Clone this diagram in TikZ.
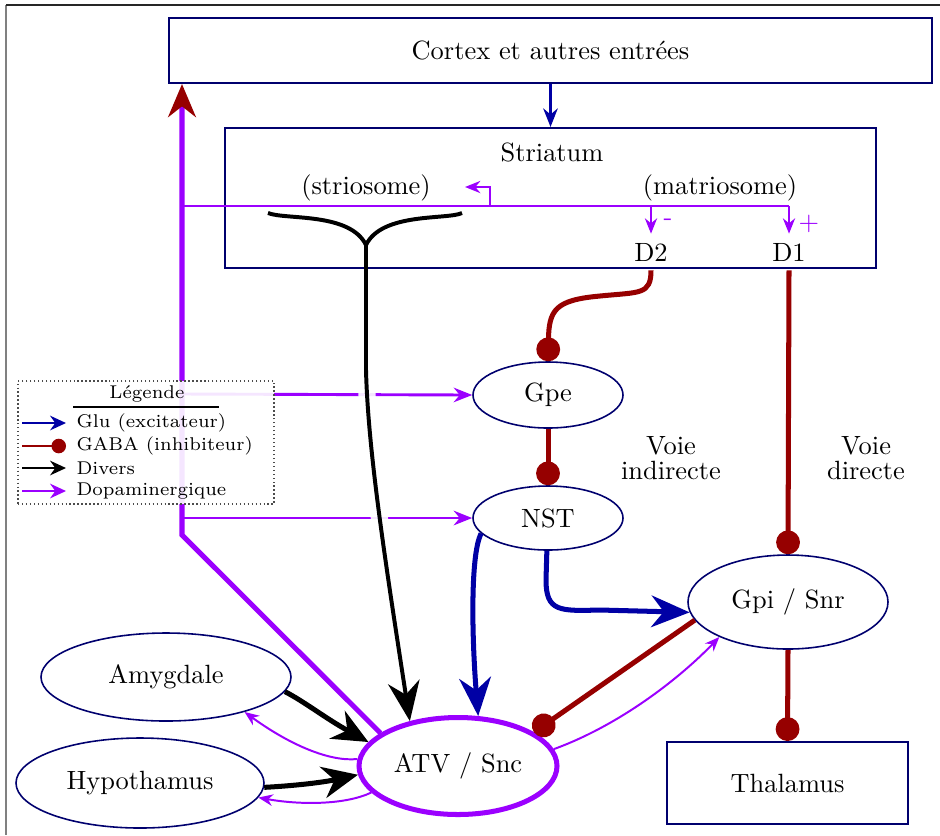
\documentclass[tikz,border=0pt]{standalone}
\usetikzlibrary{arrows.meta,shapes.geometric}
\definecolor{navyb}{RGB}{0,0,110}
\definecolor{glu}{RGB}{0,0,165}
\definecolor{gaba}{RGB}{150,0,0}
\definecolor{dopa}{RGB}{155,0,255}
\newcommand\pxu{0.3788pt}
\begin{document}
\begin{tikzpicture}[x=0.3788pt,y=-0.3788pt,
  box/.style={draw=navyb, line width=0.8pt, inner sep=0pt},
  ell/.style={ellipse, draw=navyb, line width=0.6pt, inner sep=0pt, fill=white},
  lbl/.style={inner sep=0pt},
  gluthick/.style={draw=glu, line width=1.9pt, -{Stealth[length=14.5pt,width=12pt]}},
  gabal/.style={draw=gaba, line width=1.9pt, -{Circle[length=9pt]}},
  dopathick/.style={draw=dopa, line width=1.9pt},
  dopamed/.style={draw=dopa, line width=1.1pt, -{Stealth[length=7pt,width=5.5pt]}},
  dopastr/.style={draw=dopa, line width=1pt, -{Stealth[length=5.8pt,width=4.6pt]}},
  dopathin/.style={draw=dopa, line width=0.75pt, -{Stealth[length=5.5pt,width=4.4pt]}},
  diverse/.style={draw=black, line width=1.9pt, -{Stealth[length=13.5pt,width=12pt]}},
  bigblack/.style={draw=black, line width=1.5pt, -{Stealth[length=15pt,width=12pt]}},
  bracest/.style={draw=black, line width=1.5pt},
  legtxt/.style={font=\scriptsize, anchor=west, inner sep=0pt},
  legarrow/.style={line width=1.1pt, -{Stealth[length=6pt,width=5.5pt]}},
]
\useasboundingbox (0,0) rectangle (940,835);
% frame
\draw[gray, line width=0.8pt] (6,5) -- (6,835);
\draw[black!85, line width=0.7pt] (6,5) -- (940,5);

% nodes
\node[box, minimum width=763*\pxu, minimum height=65*\pxu] (cortex) at (550.5,50.5) {Cortex et autres entrées};
\node[box, minimum width=651*\pxu, minimum height=140*\pxu] (striatum) at (550.5,198) {};
\node[lbl] (strlbl) at (552,152) {Striatum};
\node[lbl] (strio) at (366,188) {(striosome)};
\node[lbl] (matrio) at (720,188) {(matriosome)};
\node (D2) at (651,252) {D2};
\node (D1) at (789,252) {D1};
\node[text=dopa] (minus) at (668,222) {-};
\node[text=dopa] (plus) at (809,224) {+};
\node[ell, minimum width=150*\pxu, minimum height=66*\pxu] (gpe) at (548,395) {Gpe};
\node[ell, minimum width=150*\pxu, minimum height=64*\pxu] (nst) at (548,518) {NST};
\node[ell, minimum width=200*\pxu, minimum height=94*\pxu] (gpi) at (788,602) {Gpi / Snr};
\node[ell, draw=dopa, line width=1.9pt, minimum width=198*\pxu, minimum height=97*\pxu] (atv) at (458,766) {ATV / Snc};
\node[ell, minimum width=250*\pxu, minimum height=88*\pxu] (amyg) at (166,677) {Amygdale};
\node[ell, minimum width=248*\pxu, minimum height=90*\pxu] (hypo) at (140,783) {Hypothamus};
\node[box, minimum width=241*\pxu, minimum height=82*\pxu] (thal) at (787.5,783) {Thalamus};
\node[align=center] (vind) at (671,458) {Voie\\[-2.7pt]indirecte};
\node[align=center] (vdir) at (866,458) {Voie\\[-2.7pt]directe};

% cortex -> striatum
\draw[glu, line width=1.1pt, -{Stealth[length=7pt,width=5.5pt]}] (cortex.south) -- (striatum.north);

% dopaminergic main line
\coordinate (pbot) at (182,535);
\coordinate (pstr) at (182,206);
\coordinate (pgpe) at (182,394);
\coordinate (pnst) at (182,518);
\draw[dopathick, -{Stealth[length=12.5pt,width=10.5pt,color=gaba]}] (atv.157) -- (pbot) -- (pbot |- cortex.south);
\draw[dopamed] (pgpe) -- (gpe.west);
\draw[dopamed] (pnst) -- (nst.west);

% striatum dopaminergic
\coordinate (pd2) at (D2 |- pstr);
\coordinate (pd1) at (D1 |- pstr);
\coordinate (pss) at (490,206);
\coordinate (pstip) at (465,187);
\draw[dopa, line width=1pt] (pstr) -- (pd1);
\draw[dopastr] (pd2) -- (D2.north);
\draw[dopastr] (pd1) -- (D1.north);
\draw[dopastr] (pss) |- (pstip);

% GABA
\draw[gabal] (D2.south) .. controls (651,295) and (640,292) .. (600,296) .. controls (555,300) and (549,310) .. (gpe.north);
\draw[gabal] (gpe.south) -- (nst.north);
\draw[gabal] (D1.south) -- (gpi.north);
\draw[gabal] (gpi.south) -- (thal.north);
\draw[gabal] (gpi.191) -- (atv.24);

% Glu
\draw[gluthick] (nst.193) .. controls (470,555) and (472,640) .. (atv.68);
\draw[gluthick] (nst.-92) -- (546,580) .. controls (546,612) and (560,611) .. (600,610) -- (gpi.186);

% divers
\draw[diverse] (amyg.-7) .. controls (305,702) and (325,718) .. (atv.165);
\draw[diverse] (hypo.-2) .. controls (290,786) and (320,783) .. (atv.185);

% striosome output
\coordinate (brl) at (268,213);
\coordinate (brr) at (462,213);
\coordinate (brj) at (366,245);
\draw[bracest] (brl) .. controls (285,220) and (350,212) .. (brj);
\draw[bracest] (brr) .. controls (447,220) and (382,212) .. (brj);
\draw[bigblack, preaction={draw=white, opacity=.9, line width=6.5pt, -, shorten <=45pt, shorten >=40pt}] (brj) -- (366,370) .. controls (368,450) and (385,560) .. (atv.137);

% dopaminergic thin
\draw[dopathin] (atv.10) .. controls (620,725) and (680,678) .. (gpi.207);
\draw[dopathin] (atv.176) .. controls (330,762) and (290,745) .. (amyg.-24);
\draw[dopathin] (atv.197) .. controls (345,805) and (300,805) .. (hypo.-7);

% legend
\node[draw=black!70, densely dotted, line width=0.5pt, fill=white, fill opacity=0.9, text opacity=1, minimum width=256*\pxu, minimum height=123*\pxu, inner sep=0pt] (leg) at (146,442.5) {};
\node[font=\scriptsize, inner sep=0pt] (legt) at (147,394) {Légende};
\draw[line width=0.5pt] (73,407) -- (219,407);
\draw[glu, legarrow] (22,423) -- (66,423);
\node[legtxt] (lg1) at (76,423) {Glu (excitateur)};
\draw[gaba, line width=1.1pt, -{Circle[length=5.5pt]}] (22,446) -- (66,446);
\node[legtxt] (lg2) at (76,446) {GABA (inhibiteur)};
\draw[black, legarrow] (22,468) -- (66,468);
\node[legtxt] (lg3) at (76,468) {Divers};
\draw[dopa, legarrow] (22,491) -- (66,491);
\node[legtxt] (lg4) at (76,491) {Dopaminergique};
\end{tikzpicture}
\end{document}
